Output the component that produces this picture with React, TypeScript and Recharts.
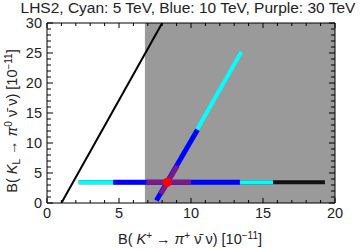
import React from "react";
import {
  ComposedChart,
  Line,
  XAxis,
  YAxis,
  ReferenceArea,
  ReferenceLine,
  Scatter,
  Customized,
} from "recharts";

// Tick positions
const xMajor = [0, 5, 10, 15, 20];
const xMinor = [1, 2, 3, 4, 6, 7, 8, 9, 11, 12, 13, 14, 16, 17, 18, 19];
const yMajor = [0, 5, 10, 15, 20, 25, 30];
const yMinor = [
  1, 2, 3, 4, 6, 7, 8, 9, 11, 12, 13, 14, 16, 17, 18, 19, 21, 22, 23, 24, 26, 27, 28, 29,
];

// Allowed region (grey band) in K+ direction
const greyX = [6.8, 20];
const greyY = [0, 30];

// Curves
const blackDiag = [
  { x: 1.0, y: 0 },
  { x: 8.0, y: 30 },
];
const blackHoriz = [
  { x: 2.2, y: 3.45 },
  { x: 19.3, y: 3.45 },
];
const cyanHoriz = [
  { x: 2.2, y: 3.45 },
  { x: 15.7, y: 3.45 },
];
const cyanDiag = [
  { x: 7.7, y: 0.8 },
  { x: 13.5, y: 25.2 },
];
const blueHoriz = [
  { x: 4.6, y: 3.45 },
  { x: 13.4, y: 3.45 },
];
const blueDiag = [
  { x: 7.6, y: 0.4 },
  { x: 10.45, y: 12.2 },
];
const purpleHoriz = [
  { x: 6.9, y: 3.45 },
  { x: 10.0, y: 3.45 },
];
const purpleDiag = [
  { x: 7.9, y: 1.5 },
  { x: 9.05, y: 6.2 },
];
const smPoint = [{ x: 8.35, y: 3.45 }];

const X_MIN = 0;
const X_MAX = 20;
const Y_MIN = 0;
const Y_MAX = 30;

// inward tick lengths in data units (x ticks measured along y, y ticks along x)
const XT_MAJ = 0.85;
const XT_MIN = 0.5;
const YT_MAJ = 0.42;
const YT_MIN = 0.28;

const TXT = "#222";
const FONT = "'Liberation Sans', Arial, sans-serif";

const Labels = () => (
  <g fontFamily={FONT} fill={TXT}>
    <text x={188} y={13} fontSize={15.5} textAnchor="middle">
      LHS2, Cyan: 5 TeV, Blue: 10 TeV, Purple: 30 TeV
    </text>
    <text x={190} y={244} fontSize={14.5} textAnchor="middle">
      <tspan>B( </tspan>
      <tspan fontStyle="italic">K</tspan>
      <tspan fontSize={10} dy={-5}>+</tspan>
      <tspan dy={5}> → </tspan>
      <tspan fontStyle="italic">π</tspan>
      <tspan fontSize={10} dy={-5}>+</tspan>
      <tspan dy={5}>  ν̄ ν)  [10</tspan>
      <tspan fontSize={10} dy={-5}>−11</tspan>
      <tspan dy={5}>]</tspan>
    </text>
    <text
      x={0}
      y={0}
      fontSize={14.5}
      textAnchor="middle"
      transform="translate(17,121) rotate(-90)"
    >
      <tspan>B( </tspan>
      <tspan fontStyle="italic">K</tspan>
      <tspan fontSize={10} dy={3}>L</tspan>
      <tspan dy={-3}> → </tspan>
      <tspan fontStyle="italic">π</tspan>
      <tspan fontSize={10} dy={-5}>0</tspan>
      <tspan dy={5}>  ν̄ ν)  [10</tspan>
      <tspan fontSize={10} dy={-5}>−11</tspan>
      <tspan dy={5}>]</tspan>
    </text>
  </g>
);

const lineProps = {
  dataKey: "y",
  xAxisId: "m",
  yAxisId: "m",
  dot: false,
  activeDot: false,
  isAnimationActive: false,
  type: "linear" as const,
  strokeLinecap: "butt" as const,
};

const refProps = {
  xAxisId: "m",
  yAxisId: "m",
  stroke: "#000",
  strokeWidth: 1,
};

function tickLines() {
  const out: React.ReactNode[] = [];
  const addX = (vals: number[], len: number, tag: string) =>
    vals.forEach((v) => {
      out.push(
        <ReferenceLine key={`xb${tag}${v}`} {...refProps} segment={[{ x: v, y: Y_MIN }, { x: v, y: Y_MIN + len }]} />
      );
      out.push(
        <ReferenceLine key={`xt${tag}${v}`} {...refProps} segment={[{ x: v, y: Y_MAX }, { x: v, y: Y_MAX - len }]} />
      );
    });
  const addY = (vals: number[], len: number, tag: string) =>
    vals.forEach((v) => {
      out.push(
        <ReferenceLine key={`yl${tag}${v}`} {...refProps} segment={[{ x: X_MIN, y: v }, { x: X_MIN + len, y: v }]} />
      );
      out.push(
        <ReferenceLine key={`yr${tag}${v}`} {...refProps} segment={[{ x: X_MAX, y: v }, { x: X_MAX - len, y: v }]} />
      );
    });
  addX(xMajor, XT_MAJ, "M");
  addX(xMinor, XT_MIN, "m");
  addY(yMajor, YT_MAJ, "M");
  addY(yMinor, YT_MIN, "m");
  return out;
}

export default function App() {
  return (
    <div style={{ position: "absolute", left: 0, top: 0 }}>
      <ComposedChart
        width={360}
        height={250}
        margin={{ top: 23, right: 25, bottom: 0, left: 0 }}
      >
        <XAxis
          xAxisId="m"
          type="number"
          dataKey="x"
          domain={[X_MIN, X_MAX]}
          ticks={xMajor}
          interval={0}
          allowDataOverflow
          height={47}
          tickLine={false}
          tickSize={4}
          tickMargin={1}
          axisLine={{ stroke: "#000", strokeWidth: 1 }}
          tick={{ fontSize: 14.5, fill: TXT, fontFamily: FONT }}
        />
        <YAxis
          yAxisId="m"
          type="number"
          domain={[Y_MIN, Y_MAX]}
          ticks={yMajor}
          interval={0}
          allowDataOverflow
          width={47}
          tickLine={false}
          tickSize={3}
          tickMargin={2}
          axisLine={{ stroke: "#000", strokeWidth: 1 }}
          tick={{ fontSize: 14.5, fill: TXT, fontFamily: FONT }}
        />

        <ReferenceArea
          xAxisId="m"
          yAxisId="m"
          x1={greyX[0]}
          x2={greyX[1]}
          y1={greyY[0]}
          y2={greyY[1]}
          fill="#9a9a9a"
          fillOpacity={1}
          stroke="none"
        />
        <Line {...lineProps} data={blackDiag} stroke="#000" strokeWidth={2} />
        <Line {...lineProps} data={blackHoriz} stroke="#111" strokeWidth={4} />
        <Line {...lineProps} data={cyanHoriz} stroke="#00ffff" strokeWidth={4} />
        <Line {...lineProps} data={cyanDiag} stroke="#00ffff" strokeWidth={4} />
        <Line {...lineProps} data={blueHoriz} stroke="#0000ff" strokeWidth={5} />
        <Line {...lineProps} data={blueDiag} stroke="#0000ff" strokeWidth={5} />
        <Line {...lineProps} data={purpleHoriz} stroke="#7a1a86" strokeWidth={5} />
        <Line {...lineProps} data={purpleDiag} stroke="#7a1a86" strokeWidth={5} />
        <Scatter
          xAxisId="m"
          yAxisId="m"
          data={smPoint}
          dataKey="y"
          isAnimationActive={false}
          shape={(p: any) => <circle cx={p.cx} cy={p.cy} r={4.5} fill="#ff0000" />}
        />
        <ReferenceLine {...refProps} y={Y_MAX} />
        <ReferenceLine {...refProps} x={X_MAX} />
        {tickLines()}
        <Customized component={Labels} />
      </ComposedChart>
    </div>
  );
}
